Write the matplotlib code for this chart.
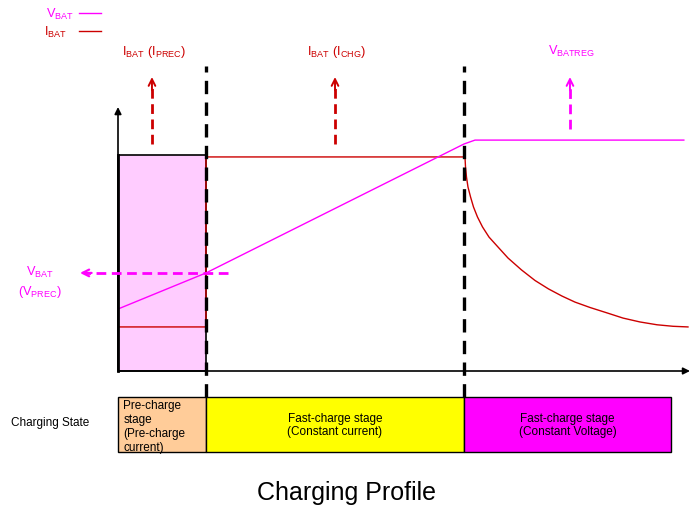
import matplotlib
matplotlib.use("Agg")
import matplotlib.pyplot as plt

plt.rcParams["font.family"] = ["Liberation Sans", "DejaVu Sans"]
plt.rcParams["mathtext.fontset"] = "custom"
plt.rcParams["mathtext.rm"] = "Liberation Sans"

MAGENTA = "#FF00FF"
RED = "#CC0000"

# stage boundaries (arbitrary time units)
stage_edges = [0.0, 1.0, 3.932, 6.284]
stage_labels = [
    "Pre-charge\nstage\n(Pre-charge\ncurrent)",
    "Fast-charge stage\n(Constant current)",
    "Fast-charge stage\n(Constant Voltage)",
]
stage_colors = ["#FFCC99", "#FFFF00", "#FF00FF"]

# battery voltage (normalised)
vbat_t = [0.0, 1.0, 3.932, 4.057, 6.43]
vbat_v = [0.287, 0.454, 1.051, 1.069, 1.069]

# battery current (normalised): pre-charge, fast charge, taper
ibat_t = [0.0, 1.0, 1.0, 3.943, 3.949, 3.960, 3.977, 4.006, 4.040, 4.085,
          4.142, 4.216, 4.307, 4.432, 4.585, 4.739, 4.892, 5.045, 5.193,
          5.364, 5.557, 5.739, 5.932, 6.125, 6.307, 6.477]
ibat_v = [0.204, 0.204, 0.991, 0.991, 0.944, 0.898, 0.852, 0.806, 0.759, 0.713,
          0.667, 0.620, 0.579, 0.523, 0.468, 0.419, 0.380, 0.347, 0.319,
          0.294, 0.269, 0.245, 0.227, 0.214, 0.207, 0.204]

v_prec = 0.454
precharge_top = 1.0

# upward annotation arrows: (t, start, label, colour)
up_arrows = [
    (0.386, 1.051, r"$\mathregular{I_{BAT}\ (I_{PREC})}$", RED),
    (2.466, 1.051, r"$\mathregular{I_{BAT}\ (I_{CHG})}$", RED),
    (5.136, 1.12, r"$\mathregular{V_{BATREG}}$", MAGENTA),
]

fig = plt.figure(figsize=(6.93, 5.06), dpi=100)
ax = fig.add_axes([0, 0, 1, 1])
ax.set_xlim(-118 / 88, 575 / 88)
ax.set_ylim(-134 / 216, 372 / 216)
ax.axis("off")

# pre-charge shaded region
ax.bar(stage_edges[0], precharge_top, width=stage_edges[1] - stage_edges[0],
       align="edge", color="#FFCCFF", edgecolor="black", linewidth=1.2, zorder=1)

# axes arrows
ax.annotate("", xy=(0, 1.222), xytext=(0, 0),
            arrowprops=dict(arrowstyle="-|>", color="black", lw=1.2,
                            mutation_scale=10, shrinkA=0, shrinkB=0), zorder=4)
ax.annotate("", xy=(6.5, 0), xytext=(0, 0),
            arrowprops=dict(arrowstyle="-|>", color="black", lw=1.2,
                            mutation_scale=10, shrinkA=0, shrinkB=0), zorder=4)
ax.plot([0, 0], [0, 1.0], color="black", lw=2, zorder=4)

# curves
ax.plot(ibat_t, ibat_v, color=RED, lw=1, zorder=3)
ax.plot(vbat_t, vbat_v, color=MAGENTA, lw=1, zorder=3)

# stage separators
for t in stage_edges[1:3]:
    ax.plot([t, t], [-0.12, 1.412], color="black", lw=2.4,
            dashes=(4, 2.5), zorder=5)

# V_PREC arrow
ax.plot([1.25, -0.36], [v_prec, v_prec], color=MAGENTA, lw=2,
        dashes=(3.5, 2), zorder=5)
ax.annotate("", xy=(-0.432, v_prec), xytext=(-0.3, v_prec),
            arrowprops=dict(arrowstyle="->", color=MAGENTA, lw=1.6,
                            mutation_scale=12, shrinkA=0, shrinkB=0))
ax.text(-0.886, 0.46, r"$\mathregular{V_{BAT}}$", color=MAGENTA,
        fontsize=9.2, ha="center", va="center")
ax.text(-0.886, 0.37, r"$\mathregular{(V_{PREC})}$", color=MAGENTA,
        fontsize=9.2, ha="center", va="center")

for t, start, label, col in up_arrows:
    ax.plot([t, t], [start, 1.32], color=col, lw=2, dashes=(3.5, 2))
    ax.annotate("", xy=(t, 1.361), xytext=(t, 1.3),
                arrowprops=dict(arrowstyle="->", color=col, lw=1.4,
                                mutation_scale=12, shrinkA=0, shrinkB=0))
    ax.text(t + 0.02, 1.483, label, color=col, fontsize=9.2,
            ha="center", va="center")

# legend
ax.text(-0.5, 1.655, r"$\mathregular{V_{BAT}}$", color=MAGENTA,
        fontsize=9.2, ha="right", va="center")
ax.plot([-0.44, -0.19], [1.656, 1.656], color=MAGENTA, lw=1)
ax.text(-0.58, 1.573, r"$\mathregular{I_{BAT}}$", color=RED,
        fontsize=9.2, ha="right", va="center")
ax.plot([-0.44, -0.19], [1.573, 1.573], color=RED, lw=1)

# charging state bar
box_bottom, box_top = -0.375, -0.12
for i in range(3):
    left, right = stage_edges[i], stage_edges[i + 1]
    ax.bar(left, box_top - box_bottom, width=right - left, bottom=box_bottom,
           align="edge", color=stage_colors[i], edgecolor="black", lw=1, zorder=2)
    if i == 0:
        ax.text(left + 0.06, (box_top + box_bottom) / 2 - 0.005, stage_labels[i],
                fontsize=8.5, ha="left", va="center", linespacing=1.22, zorder=3)
    else:
        ax.text((left + right) / 2, (box_top + box_bottom) / 2, stage_labels[i],
                fontsize=8.5, ha="center", va="center", zorder=3)
ax.text(-1.22, -0.235, "Charging State", fontsize=8.5, ha="left", va="center")

fig.text(0.5, 0.025, "Charging Profile", fontsize=18, ha="center", va="center")

fig.savefig("out.png", dpi=100)
